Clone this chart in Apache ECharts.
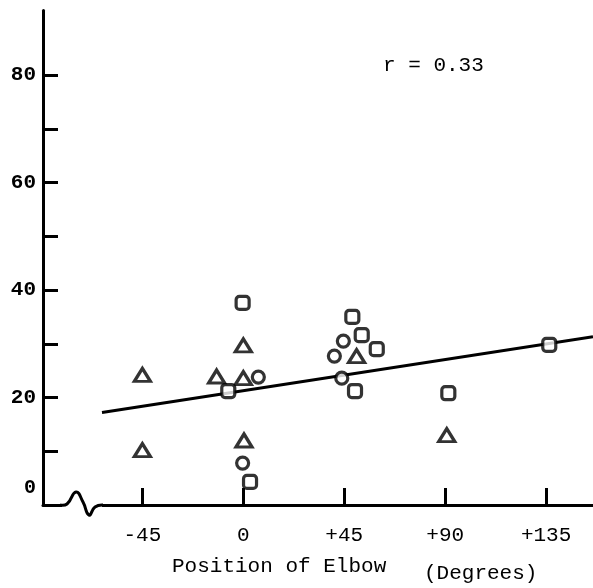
<!DOCTYPE html>
<html>
<head>
<meta charset="utf-8">
<script src="https://cdn.jsdelivr.net/npm/echarts@6/dist/echarts.min.js"></script>
<style>html,body{margin:0;padding:0;background:#fff;}#c{width:593px;height:588px;}</style>
</head>
<body>
<div id="c"></div>
<script>
const xTicks = [-45, 0, 45, 90, 135];
const yTickValues = [10, 20, 30, 40, 50, 60, 70, 80];
const yLabelValues = [0, 20, 40, 60, 80];
const triangles = [[-45, 24.2], [-45, 10.2], [-11.9, 23.9], [0, 29.7], [0, 23.6], [0.3, 12.0], [50.5, 27.7], [90.7, 13.0]];
const circles = [[6.7, 23.8], [-0.3, 7.8], [40.6, 27.7], [44.6, 30.5], [43.9, 23.6]];
const squares = [[-0.3, 37.6], [-6.7, 21.2], [3.0, 4.3], [48.6, 35.0], [52.8, 31.6], [59.5, 29.0], [49.8, 21.2], [91.4, 20.8], [136.4, 29.8]];
const fitLine = [[-63, 17.2], [155.9, 31.3]];
const rText = 'r = 0.33';

const FONT = '"Liberation Mono", "Courier New", monospace';
const chart = echarts.init(document.getElementById('c'), null, {renderer: 'canvas'});
const mk = { color: '#fff', borderColor: '#000', borderWidth: 3.2 };
chart.setOption({
  animation: false,
  backgroundColor: '#fff',
  grid: { left: 43, right: 0, top: 10.5, bottom: 83 },
  xAxis: {
    type: 'value', min: -89.3, max: 155.9,
    splitLine: { show: false },
    axisLine: { show: true, onZero: false, lineStyle: { color: '#000', width: 3 } },
    axisTick: { show: true, inside: true, length: 17, customValues: xTicks, lineStyle: { color: '#000', width: 3 } },
    axisLabel: { customValues: xTicks, margin: 20, color: '#000', fontFamily: FONT, fontSize: 21,
      formatter: v => (v > 0 ? '+' + v : String(v)) }
  },
  yAxis: {
    type: 'value', min: 0, max: 92,
    splitLine: { show: false },
    axisLine: { show: true, onZero: false, lineStyle: { color: '#000', width: 3 } },
    axisTick: { show: true, inside: true, length: 15, customValues: yTickValues, lineStyle: { color: '#000', width: 3 } },
    axisLabel: { customValues: yLabelValues, margin: 7, color: '#000', fontFamily: FONT, fontSize: 21, fontWeight: 'bold',
      formatter: v => (v === 0 ? '{z|0}' : String(v)),
      rich: { z: { fontFamily: FONT, fontSize: 20, fontWeight: 'bold', color: '#000', padding: [0, 0, 34, 0] } } }
  },
  series: [
    { type: 'line', data: fitLine, symbol: 'none', lineStyle: { color: '#000', width: 3 }, z: 2 },
    { type: 'scatter', data: triangles, symbol: 'triangle', symbolSize: [16, 13], itemStyle: mk, z: 3 },
    { type: 'scatter', data: circles, symbol: 'circle', symbolSize: 12, itemStyle: mk, z: 3 },
    { type: 'scatter', data: squares, symbol: 'roundRect', symbolSize: 13, itemStyle: mk, z: 3 }
  ],
  graphic: [
    { type: 'rect', shape: { x: 62, y: 500, width: 40, height: 10 }, style: { fill: '#fff' }, z: 100 },
    { type: 'polyline', shape: { points: [[60, 505], [67, 504], [76, 492], [83, 502], [89, 515], [95, 507], [103, 505]], smooth: 0.5 },
      style: { stroke: '#000', lineWidth: 3, fill: null }, z: 101 },
    { type: 'text', left: 383, top: 55, style: { text: rText, font: '21px ' + FONT, fill: '#000' } },
    { type: 'text', left: 172, top: 556, style: { text: 'Position of Elbow', font: '21px ' + FONT, fill: '#000' } },
    { type: 'text', left: 424, top: 563, style: { text: '(Degrees)', font: '21px ' + FONT, fill: '#000' } }
  ]
});
</script>
</body>
</html>
